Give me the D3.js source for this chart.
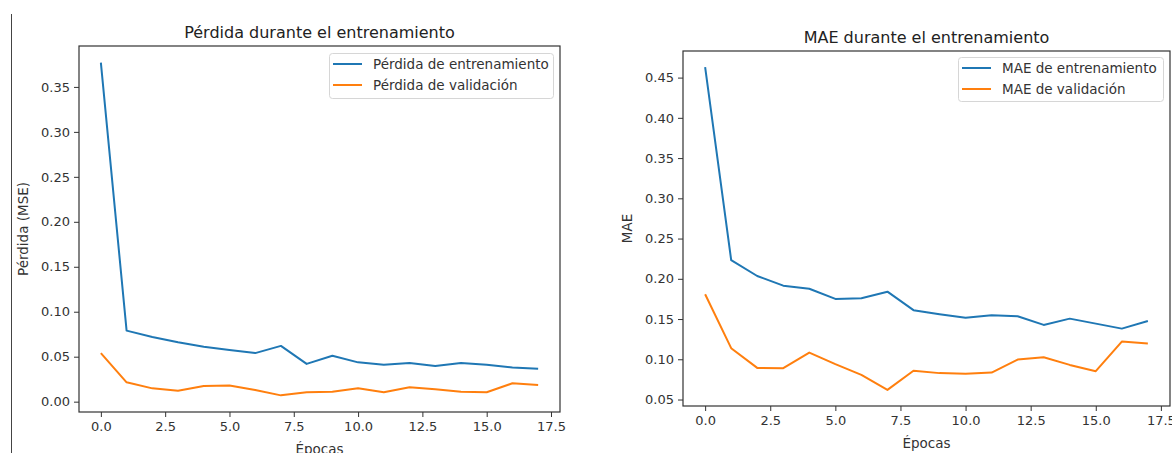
<!DOCTYPE html>
<html>
<head>
<meta charset="utf-8">
<script src="https://cdn.jsdelivr.net/npm/d3@7"></script>
<style>
  html, body { margin: 0; padding: 0; background: #fff; }
  svg { display: block; font-family: "DejaVu Sans", sans-serif; }
</style>
</head>
<body>
<svg id="chart" width="1172" height="453"></svg>
<script>
// Training history, one value per epoch
const epochs = d3.range(18);
const lossTrain = [0.377, 0.079, 0.072, 0.066, 0.061, 0.0575, 0.054, 0.062, 0.042, 0.051, 0.0437, 0.041, 0.043, 0.0397, 0.043, 0.041, 0.038, 0.0367];
const lossVal   = [0.054, 0.0215, 0.0148, 0.0122, 0.0174, 0.018, 0.013, 0.007, 0.0104, 0.011, 0.015, 0.0104, 0.016, 0.0137, 0.011, 0.0104, 0.0204, 0.0186];
const maeTrain  = [0.463, 0.2233, 0.2035, 0.1915, 0.1877, 0.175, 0.1758, 0.184, 0.161, 0.156, 0.1517, 0.1547, 0.1535, 0.1427, 0.1505, 0.1443, 0.1381, 0.1476];
const maeVal    = [0.1808, 0.1138, 0.0893, 0.0889, 0.1083, 0.094, 0.0806, 0.062, 0.0857, 0.0828, 0.082, 0.0835, 0.0996, 0.1026, 0.093, 0.0852, 0.122, 0.1195];

const xTicks = [0, 2.5, 5, 7.5, 10, 12.5, 15, 17.5];
const lossTicks = [0, 0.05, 0.10, 0.15, 0.20, 0.25, 0.30, 0.35];
const maeTicks = [0.05, 0.10, 0.15, 0.20, 0.25, 0.30, 0.35, 0.40, 0.45];

const panels = [
  {
    title: "Pérdida durante el entrenamiento",
    ylabel: "Pérdida (MSE)",
    xlabel: "Épocas",
    series: [lossTrain, lossVal],
    names: ["Pérdida de entrenamiento", "Pérdida de validación"],
    yTicks: lossTicks, yFmt: d3.format(".2f"),
    box: { left: 79, right: 560, top: 46, bottom: 412 },
    legend: { x: 329, y: 53, w: 224, h: 45 }
  },
  {
    title: "MAE durante el entrenamiento",
    ylabel: "MAE",
    xlabel: "Épocas",
    series: [maeTrain, maeVal],
    names: ["MAE de entrenamiento", "MAE de validación"],
    yTicks: maeTicks, yFmt: d3.format(".2f"),
    box: { left: 683, right: 1170, top: 51, bottom: 406 },
    legend: { x: 958, y: 57, w: 205, h: 44 }
  }
];

const colors = ["#1f77b4", "#ff7f0e"];
const svg = d3.select("#chart");

// thin divider at the left edge
svg.append("line")
  .attr("x1", 11.5).attr("x2", 11.5).attr("y1", 14).attr("y2", 453)
  .attr("stroke", "#444").attr("stroke-width", 1);

function padded(lo, hi) {
  const m = (hi - lo) * 0.05;
  return [lo - m, hi + m];
}

panels.forEach(p => {
  const b = p.box;
  const all = p.series.flat();
  const x = d3.scaleLinear().domain(padded(0, epochs.length - 1)).range([b.left, b.right]);
  const y = d3.scaleLinear().domain(padded(d3.min(all), d3.max(all))).range([b.bottom, b.top]);
  const g = svg.append("g");

  // axes
  const xAxis = d3.axisBottom(x).tickValues(xTicks).tickFormat(d3.format(".1f")).tickSize(5).tickSizeOuter(0).tickPadding(5);
  const yAxis = d3.axisLeft(y).tickValues(p.yTicks).tickFormat(p.yFmt).tickSize(5).tickSizeOuter(0).tickPadding(4);

  const gx = g.append("g").attr("transform", `translate(0,${b.bottom})`).call(xAxis);
  const gy = g.append("g").attr("transform", `translate(${b.left},0)`).call(yAxis);
  [gx, gy].forEach(a => {
    a.select(".domain").remove();
    a.selectAll(".tick line").attr("stroke", "#333").attr("stroke-width", 1);
    a.selectAll(".tick text").attr("fill", "#333").style("font-size", "13px").style("font-family", "DejaVu Sans");
  });

  // lines
  const line = d3.line().x((d, i) => x(epochs[i])).y(d => y(d));
  p.series.forEach((s, k) => {
    g.append("path").datum(s)
      .attr("fill", "none").attr("stroke", colors[k]).attr("stroke-width", 2)
      .attr("stroke-linejoin", "round").attr("d", line);
  });

  // frame
  g.append("rect")
    .attr("x", b.left).attr("y", b.top)
    .attr("width", b.right - b.left).attr("height", b.bottom - b.top)
    .attr("fill", "none").attr("stroke", "#333").attr("stroke-width", 1.2);

  // title and axis labels
  g.append("text").attr("x", (b.left + b.right) / 2).attr("y", b.top - 8)
    .attr("text-anchor", "middle").attr("fill", "#222").style("font-size", "16px").text(p.title);
  g.append("text").attr("x", (b.left + b.right) / 2).attr("y", b.bottom + 42)
    .attr("text-anchor", "middle").attr("fill", "#333").style("font-size", "13.5px").text(p.xlabel);
  g.append("text")
    .attr("transform", `translate(${b.left - 51},${(b.top + b.bottom) / 2}) rotate(-90)`)
    .attr("text-anchor", "middle").attr("fill", "#333").style("font-size", "13.5px").text(p.ylabel);

  // legend
  const L = p.legend;
  const lg = g.append("g");
  lg.append("rect").attr("x", L.x + 0.5).attr("y", L.y + 0.5).attr("width", L.w).attr("height", L.h)
    .attr("rx", 3).attr("fill", "#fff").attr("fill-opacity", 0.8).attr("stroke", "#d6d6d6");
  p.names.forEach((n, k) => {
    const yy = L.y + 11 + k * 21;
    lg.append("line").attr("x1", L.x + 4).attr("x2", L.x + 33).attr("y1", yy).attr("y2", yy)
      .attr("stroke", colors[k]).attr("stroke-width", 2);
    lg.append("text").attr("x", L.x + 44).attr("y", yy).attr("dy", "0.35em")
      .attr("fill", "#333").style("font-size", "13.5px").text(n);
  });
});
</script>
</body>
</html>
